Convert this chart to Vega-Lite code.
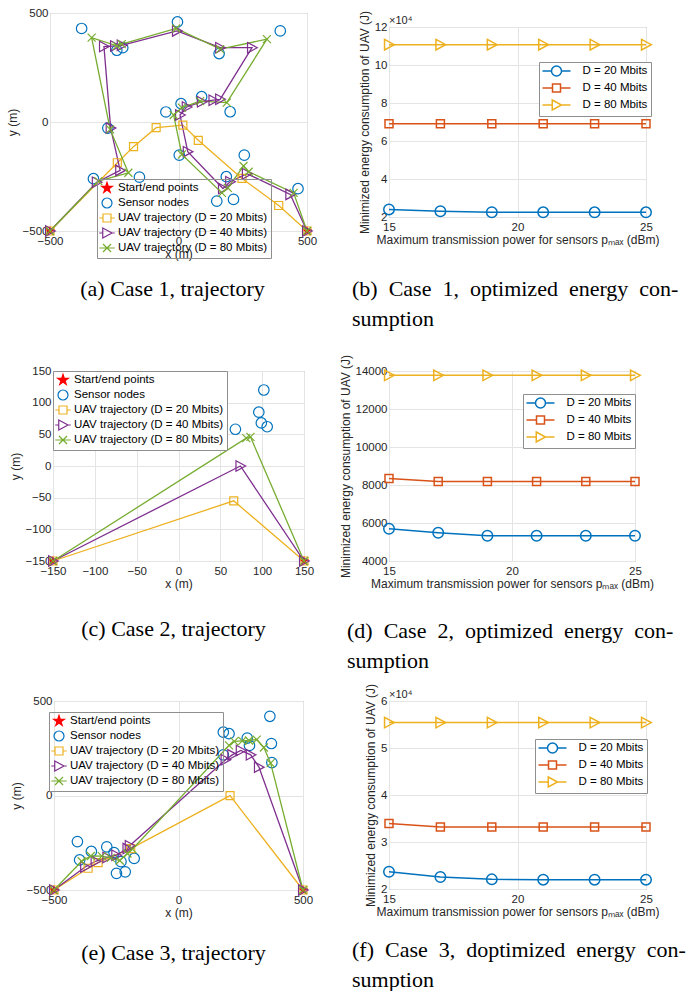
{
  "$schema": "https://vega.github.io/schema/vega-lite/v6.json",
  "padding": {"left": 5, "top": 6, "right": 0, "bottom": 0},
  "bounds": "flush",
  "columns": 2,
  "spacing": {"row": 140, "column": 82},
  "center": {"row": true, "column": true},
  "resolve": {"scale": {"color": "independent", "shape": "independent", "fill": "independent"}, "legend": {"color": "independent", "shape": "independent", "fill": "independent"}},
  "datasets": {
    "trajA": [
      {"s": "Start/end points", "x": -500, "y": -500, "i": 0},
      {"s": "Start/end points", "x": 500, "y": -500, "i": 1},
      {"s": "Sensor nodes", "x": -377, "y": 429, "i": 0},
      {"s": "Sensor nodes", "x": -4, "y": 459, "i": 1},
      {"s": "Sensor nodes", "x": 396, "y": 418, "i": 2},
      {"s": "Sensor nodes", "x": -240, "y": 329, "i": 3},
      {"s": "Sensor nodes", "x": -217, "y": 341, "i": 4},
      {"s": "Sensor nodes", "x": 158, "y": 314, "i": 5},
      {"s": "Sensor nodes", "x": 90, "y": 116, "i": 6},
      {"s": "Sensor nodes", "x": 10, "y": 84, "i": 7},
      {"s": "Sensor nodes", "x": -49, "y": 46, "i": 8},
      {"s": "Sensor nodes", "x": 201, "y": 47, "i": 9},
      {"s": "Sensor nodes", "x": -275, "y": -28, "i": 10},
      {"s": "Sensor nodes", "x": 3, "y": -152, "i": 11},
      {"s": "Sensor nodes", "x": 256, "y": -152, "i": 12},
      {"s": "Sensor nodes", "x": -331, "y": -260, "i": 13},
      {"s": "Sensor nodes", "x": -152, "y": -253, "i": 14},
      {"s": "Sensor nodes", "x": 186, "y": -251, "i": 15},
      {"s": "Sensor nodes", "x": 465, "y": -306, "i": 16},
      {"s": "Sensor nodes", "x": 149, "y": -363, "i": 17},
      {"s": "Sensor nodes", "x": 214, "y": -355, "i": 18},
      {"s": "UAV trajectory (D = 20 Mbits)", "x": -500, "y": -500, "i": 0},
      {"s": "UAV trajectory (D = 20 Mbits)", "x": -238, "y": -187, "i": 1},
      {"s": "UAV trajectory (D = 20 Mbits)", "x": -175, "y": -113, "i": 2},
      {"s": "UAV trajectory (D = 20 Mbits)", "x": -87, "y": -26, "i": 3},
      {"s": "UAV trajectory (D = 20 Mbits)", "x": 17, "y": -14, "i": 4},
      {"s": "UAV trajectory (D = 20 Mbits)", "x": 77, "y": -84, "i": 5},
      {"s": "UAV trajectory (D = 20 Mbits)", "x": 247, "y": -259, "i": 6},
      {"s": "UAV trajectory (D = 20 Mbits)", "x": 390, "y": -383, "i": 7},
      {"s": "UAV trajectory (D = 20 Mbits)", "x": 500, "y": -500, "i": 8},
      {"s": "UAV trajectory (D = 40 Mbits)", "x": -500, "y": -500, "i": 0},
      {"s": "UAV trajectory (D = 40 Mbits)", "x": -318, "y": -276, "i": 1},
      {"s": "UAV trajectory (D = 40 Mbits)", "x": -227, "y": -222, "i": 2},
      {"s": "UAV trajectory (D = 40 Mbits)", "x": -264, "y": -28, "i": 3},
      {"s": "UAV trajectory (D = 40 Mbits)", "x": -290, "y": 346, "i": 4},
      {"s": "UAV trajectory (D = 40 Mbits)", "x": -247, "y": 349, "i": 5},
      {"s": "UAV trajectory (D = 40 Mbits)", "x": -221, "y": 352, "i": 6},
      {"s": "UAV trajectory (D = 40 Mbits)", "x": -6, "y": 418, "i": 7},
      {"s": "UAV trajectory (D = 40 Mbits)", "x": 162, "y": 341, "i": 8},
      {"s": "UAV trajectory (D = 40 Mbits)", "x": 286, "y": 341, "i": 9},
      {"s": "UAV trajectory (D = 40 Mbits)", "x": 162, "y": 104, "i": 10},
      {"s": "UAV trajectory (D = 40 Mbits)", "x": 136, "y": 100, "i": 11},
      {"s": "UAV trajectory (D = 40 Mbits)", "x": 91, "y": 93, "i": 12},
      {"s": "UAV trajectory (D = 40 Mbits)", "x": 32, "y": 69, "i": 13},
      {"s": "UAV trajectory (D = 40 Mbits)", "x": 6, "y": 32, "i": 14},
      {"s": "UAV trajectory (D = 40 Mbits)", "x": 36, "y": -136, "i": 15},
      {"s": "UAV trajectory (D = 40 Mbits)", "x": 173, "y": -305, "i": 16},
      {"s": "UAV trajectory (D = 40 Mbits)", "x": 201, "y": -274, "i": 17},
      {"s": "UAV trajectory (D = 40 Mbits)", "x": 266, "y": -237, "i": 18},
      {"s": "UAV trajectory (D = 40 Mbits)", "x": 435, "y": -332, "i": 19},
      {"s": "UAV trajectory (D = 40 Mbits)", "x": 500, "y": -500, "i": 20},
      {"s": "UAV trajectory (D = 80 Mbits)", "x": -500, "y": -500, "i": 0},
      {"s": "UAV trajectory (D = 80 Mbits)", "x": -312, "y": -271, "i": 1},
      {"s": "UAV trajectory (D = 80 Mbits)", "x": -195, "y": -233, "i": 2},
      {"s": "UAV trajectory (D = 80 Mbits)", "x": -266, "y": -34, "i": 3},
      {"s": "UAV trajectory (D = 80 Mbits)", "x": -338, "y": 387, "i": 4},
      {"s": "UAV trajectory (D = 80 Mbits)", "x": -240, "y": 349, "i": 5},
      {"s": "UAV trajectory (D = 80 Mbits)", "x": -221, "y": 357, "i": 6},
      {"s": "UAV trajectory (D = 80 Mbits)", "x": -9, "y": 429, "i": 7},
      {"s": "UAV trajectory (D = 80 Mbits)", "x": 162, "y": 334, "i": 8},
      {"s": "UAV trajectory (D = 80 Mbits)", "x": 344, "y": 380, "i": 9},
      {"s": "UAV trajectory (D = 80 Mbits)", "x": 188, "y": 89, "i": 10},
      {"s": "UAV trajectory (D = 80 Mbits)", "x": 84, "y": 96, "i": 11},
      {"s": "UAV trajectory (D = 80 Mbits)", "x": 13, "y": 66, "i": 12},
      {"s": "UAV trajectory (D = 80 Mbits)", "x": -19, "y": 32, "i": 13},
      {"s": "UAV trajectory (D = 80 Mbits)", "x": 13, "y": -149, "i": 14},
      {"s": "UAV trajectory (D = 80 Mbits)", "x": 169, "y": -325, "i": 15},
      {"s": "UAV trajectory (D = 80 Mbits)", "x": 192, "y": -302, "i": 16},
      {"s": "UAV trajectory (D = 80 Mbits)", "x": 253, "y": -202, "i": 17},
      {"s": "UAV trajectory (D = 80 Mbits)", "x": 273, "y": -228, "i": 18},
      {"s": "UAV trajectory (D = 80 Mbits)", "x": 448, "y": -325, "i": 19},
      {"s": "UAV trajectory (D = 80 Mbits)", "x": 500, "y": -500, "i": 20}
    ],
    "trajC": [
      {"s": "Start/end points", "x": -150, "y": -150, "i": 0},
      {"s": "Start/end points", "x": 150, "y": -150, "i": 1},
      {"s": "Sensor nodes", "x": 68, "y": 58, "i": 0},
      {"s": "Sensor nodes", "x": 102, "y": 120, "i": 1},
      {"s": "Sensor nodes", "x": 96, "y": 85, "i": 2},
      {"s": "Sensor nodes", "x": 99, "y": 68, "i": 3},
      {"s": "Sensor nodes", "x": 106, "y": 62, "i": 4},
      {"s": "UAV trajectory (D = 20 Mbits)", "x": -150, "y": -150, "i": 0},
      {"s": "UAV trajectory (D = 20 Mbits)", "x": 66, "y": -55, "i": 1},
      {"s": "UAV trajectory (D = 20 Mbits)", "x": 150, "y": -150, "i": 2},
      {"s": "UAV trajectory (D = 40 Mbits)", "x": -150, "y": -150, "i": 0},
      {"s": "UAV trajectory (D = 40 Mbits)", "x": 74, "y": 0, "i": 1},
      {"s": "UAV trajectory (D = 40 Mbits)", "x": 150, "y": -150, "i": 2},
      {"s": "UAV trajectory (D = 80 Mbits)", "x": -150, "y": -150, "i": 0},
      {"s": "UAV trajectory (D = 80 Mbits)", "x": 81, "y": 44, "i": 1},
      {"s": "UAV trajectory (D = 80 Mbits)", "x": 86, "y": 46, "i": 2},
      {"s": "UAV trajectory (D = 80 Mbits)", "x": 150, "y": -150, "i": 3}
    ],
    "trajE": [
      {"s": "Start/end points", "x": -500, "y": -500, "i": 0},
      {"s": "Start/end points", "x": 500, "y": -500, "i": 1},
      {"s": "Sensor nodes", "x": 367, "y": 419, "i": 0},
      {"s": "Sensor nodes", "x": 180, "y": 335, "i": 1},
      {"s": "Sensor nodes", "x": 203, "y": 327, "i": 2},
      {"s": "Sensor nodes", "x": 373, "y": 275, "i": 3},
      {"s": "Sensor nodes", "x": 276, "y": 304, "i": 4},
      {"s": "Sensor nodes", "x": 285, "y": 265, "i": 5},
      {"s": "Sensor nodes", "x": 180, "y": 215, "i": 6},
      {"s": "Sensor nodes", "x": 375, "y": 174, "i": 7},
      {"s": "Sensor nodes", "x": -406, "y": -244, "i": 8},
      {"s": "Sensor nodes", "x": -397, "y": -341, "i": 9},
      {"s": "Sensor nodes", "x": -350, "y": -296, "i": 10},
      {"s": "Sensor nodes", "x": -288, "y": -272, "i": 11},
      {"s": "Sensor nodes", "x": -259, "y": -302, "i": 12},
      {"s": "Sensor nodes", "x": -231, "y": -350, "i": 13},
      {"s": "Sensor nodes", "x": -249, "y": -412, "i": 14},
      {"s": "Sensor nodes", "x": -214, "y": -404, "i": 15},
      {"s": "Sensor nodes", "x": -178, "y": -333, "i": 16},
      {"s": "UAV trajectory (D = 20 Mbits)", "x": -500, "y": -500, "i": 0},
      {"s": "UAV trajectory (D = 20 Mbits)", "x": -363, "y": -385, "i": 1},
      {"s": "UAV trajectory (D = 20 Mbits)", "x": -323, "y": -355, "i": 2},
      {"s": "UAV trajectory (D = 20 Mbits)", "x": -192, "y": -281, "i": 3},
      {"s": "UAV trajectory (D = 20 Mbits)", "x": 207, "y": -1, "i": 4},
      {"s": "UAV trajectory (D = 20 Mbits)", "x": 500, "y": -500, "i": 5},
      {"s": "UAV trajectory (D = 40 Mbits)", "x": -500, "y": -500, "i": 0},
      {"s": "UAV trajectory (D = 40 Mbits)", "x": -375, "y": -378, "i": 1},
      {"s": "UAV trajectory (D = 40 Mbits)", "x": -333, "y": -348, "i": 2},
      {"s": "UAV trajectory (D = 40 Mbits)", "x": -286, "y": -328, "i": 3},
      {"s": "UAV trajectory (D = 40 Mbits)", "x": -250, "y": -316, "i": 4},
      {"s": "UAV trajectory (D = 40 Mbits)", "x": -205, "y": -281, "i": 5},
      {"s": "UAV trajectory (D = 40 Mbits)", "x": -196, "y": -266, "i": 6},
      {"s": "UAV trajectory (D = 40 Mbits)", "x": 189, "y": 189, "i": 7},
      {"s": "UAV trajectory (D = 40 Mbits)", "x": 216, "y": 215, "i": 8},
      {"s": "UAV trajectory (D = 40 Mbits)", "x": 250, "y": 238, "i": 9},
      {"s": "UAV trajectory (D = 40 Mbits)", "x": 290, "y": 215, "i": 10},
      {"s": "UAV trajectory (D = 40 Mbits)", "x": 323, "y": 150, "i": 11},
      {"s": "UAV trajectory (D = 40 Mbits)", "x": 500, "y": -500, "i": 12},
      {"s": "UAV trajectory (D = 80 Mbits)", "x": -500, "y": -500, "i": 0},
      {"s": "UAV trajectory (D = 80 Mbits)", "x": -389, "y": -348, "i": 1},
      {"s": "UAV trajectory (D = 80 Mbits)", "x": -352, "y": -320, "i": 2},
      {"s": "UAV trajectory (D = 80 Mbits)", "x": -308, "y": -321, "i": 3},
      {"s": "UAV trajectory (D = 80 Mbits)", "x": -272, "y": -330, "i": 4},
      {"s": "UAV trajectory (D = 80 Mbits)", "x": -236, "y": -344, "i": 5},
      {"s": "UAV trajectory (D = 80 Mbits)", "x": -205, "y": -307, "i": 6},
      {"s": "UAV trajectory (D = 80 Mbits)", "x": -185, "y": -284, "i": 7},
      {"s": "UAV trajectory (D = 80 Mbits)", "x": 203, "y": 265, "i": 8},
      {"s": "UAV trajectory (D = 80 Mbits)", "x": 224, "y": 286, "i": 9},
      {"s": "UAV trajectory (D = 80 Mbits)", "x": 256, "y": 289, "i": 10},
      {"s": "UAV trajectory (D = 80 Mbits)", "x": 283, "y": 291, "i": 11},
      {"s": "UAV trajectory (D = 80 Mbits)", "x": 314, "y": 296, "i": 12},
      {"s": "UAV trajectory (D = 80 Mbits)", "x": 343, "y": 254, "i": 13},
      {"s": "UAV trajectory (D = 80 Mbits)", "x": 370, "y": 171, "i": 14},
      {"s": "UAV trajectory (D = 80 Mbits)", "x": 500, "y": -500, "i": 15}
    ],
    "enB": [
      {"s": "D = 20 Mbits", "p": 15, "e": 2.40}, {"s": "D = 20 Mbits", "p": 17, "e": 2.30}, {"s": "D = 20 Mbits", "p": 19, "e": 2.25},
      {"s": "D = 20 Mbits", "p": 21, "e": 2.245}, {"s": "D = 20 Mbits", "p": 23, "e": 2.245}, {"s": "D = 20 Mbits", "p": 25, "e": 2.245},
      {"s": "D = 40 Mbits", "p": 15, "e": 6.91}, {"s": "D = 40 Mbits", "p": 17, "e": 6.91}, {"s": "D = 40 Mbits", "p": 19, "e": 6.91},
      {"s": "D = 40 Mbits", "p": 21, "e": 6.91}, {"s": "D = 40 Mbits", "p": 23, "e": 6.91}, {"s": "D = 40 Mbits", "p": 25, "e": 6.91},
      {"s": "D = 80 Mbits", "p": 15, "e": 11.07}, {"s": "D = 80 Mbits", "p": 17, "e": 11.07}, {"s": "D = 80 Mbits", "p": 19, "e": 11.07},
      {"s": "D = 80 Mbits", "p": 21, "e": 11.07}, {"s": "D = 80 Mbits", "p": 23, "e": 11.07}, {"s": "D = 80 Mbits", "p": 25, "e": 11.07}
    ],
    "enD": [
      {"s": "D = 20 Mbits", "p": 15, "e": 5696}, {"s": "D = 20 Mbits", "p": 17, "e": 5486}, {"s": "D = 20 Mbits", "p": 19, "e": 5329},
      {"s": "D = 20 Mbits", "p": 21, "e": 5329}, {"s": "D = 20 Mbits", "p": 23, "e": 5329}, {"s": "D = 20 Mbits", "p": 25, "e": 5329},
      {"s": "D = 40 Mbits", "p": 15, "e": 8336}, {"s": "D = 40 Mbits", "p": 17, "e": 8178}, {"s": "D = 40 Mbits", "p": 19, "e": 8178},
      {"s": "D = 40 Mbits", "p": 21, "e": 8178}, {"s": "D = 40 Mbits", "p": 23, "e": 8178}, {"s": "D = 40 Mbits", "p": 25, "e": 8178},
      {"s": "D = 80 Mbits", "p": 15, "e": 13773}, {"s": "D = 80 Mbits", "p": 17, "e": 13773}, {"s": "D = 80 Mbits", "p": 19, "e": 13773},
      {"s": "D = 80 Mbits", "p": 21, "e": 13773}, {"s": "D = 80 Mbits", "p": 23, "e": 13773}, {"s": "D = 80 Mbits", "p": 25, "e": 13773}
    ],
    "enF": [
      {"s": "D = 20 Mbits", "p": 15, "e": 2.368}, {"s": "D = 20 Mbits", "p": 17, "e": 2.255}, {"s": "D = 20 Mbits", "p": 19, "e": 2.205},
      {"s": "D = 20 Mbits", "p": 21, "e": 2.198}, {"s": "D = 20 Mbits", "p": 23, "e": 2.198}, {"s": "D = 20 Mbits", "p": 25, "e": 2.198},
      {"s": "D = 40 Mbits", "p": 15, "e": 3.395}, {"s": "D = 40 Mbits", "p": 17, "e": 3.317}, {"s": "D = 40 Mbits", "p": 19, "e": 3.317},
      {"s": "D = 40 Mbits", "p": 21, "e": 3.317}, {"s": "D = 40 Mbits", "p": 23, "e": 3.317}, {"s": "D = 40 Mbits", "p": 25, "e": 3.317},
      {"s": "D = 80 Mbits", "p": 15, "e": 5.54}, {"s": "D = 80 Mbits", "p": 17, "e": 5.54}, {"s": "D = 80 Mbits", "p": 19, "e": 5.54},
      {"s": "D = 80 Mbits", "p": 21, "e": 5.54}, {"s": "D = 80 Mbits", "p": 23, "e": 5.54}, {"s": "D = 80 Mbits", "p": 25, "e": 5.54}
    ]
  },
  "concat": [
    {
      "width": 257, "height": 218,
      "data": {"name": "trajA"},
      "title": {"text": "(a) Case 1, trajectory", "orient": "bottom", "anchor": "middle", "frame": "group", "offset": 19, "dx": -6},
      "encoding": {
        "x": {"field": "x", "type": "quantitative", "scale": {"domain": [-500, 500], "nice": false, "zero": false}, "axis": {"values": [-500, 0, 500], "title": "x (m)"}},
        "y": {"field": "y", "type": "quantitative", "scale": {"domain": [-500, 500], "nice": false, "zero": false}, "axis": {"values": [-500, 0, 500], "title": "y (m)"}},
        "color": {"field": "s", "type": "nominal",
          "scale": {"domain": ["Start/end points", "Sensor nodes", "UAV trajectory (D = 20 Mbits)", "UAV trajectory (D = 40 Mbits)", "UAV trajectory (D = 80 Mbits)"], "range": ["#ff0000", "#0072bd", "#edb120", "#7e2f8e", "#77ac30"]},
          "legend": {"orient": "none", "legendX": 47, "legendY": 166, "title": null, "fillColor": null, "strokeColor": "#8f8f8f", "padding": 3, "rowPadding": 0, "symbolSize": 100, "symbolStrokeWidth": 1.2, "symbolOpacity": 1, "symbolOffset": 1, "labelOffset": 5, "labelFontSize": 11.5}}
      },
      "layer": [
        {"mark": {"type": "point", "filled": false, "size": 0},
         "encoding": {
           "shape": {"field": "s", "type": "nominal", "scale": {"domain": ["Start/end points", "Sensor nodes", "UAV trajectory (D = 20 Mbits)", "UAV trajectory (D = 40 Mbits)", "UAV trajectory (D = 80 Mbits)"], "range": ["M0,-1.1 L0.247,-0.34 L1.046,-0.34 L0.4,0.13 L0.647,0.89 L0,0.42 L-0.647,0.89 L-0.4,0.13 L-1.046,-0.34 L-0.247,-0.34 Z", "circle", "M-1.55,0 L-0.8,0 M0.8,0 L1.55,0 M-0.8,-0.8 L0.8,-0.8 L0.8,0.8 L-0.8,0.8 Z", "M-1.55,0 L-0.85,0 M1,0 L1.55,0 M-0.85,-1 L1,0 L-0.85,1 Z", "M-1.55,0 L1.55,0 M-0.8,-0.8 L0.8,0.8 M-0.8,0.8 L0.8,-0.8"]},
             "legend": {"orient": "none", "legendX": 47, "legendY": 166, "title": null, "fillColor": null, "strokeColor": "#8f8f8f", "padding": 3, "rowPadding": 0, "symbolSize": 100, "symbolStrokeWidth": 1.2, "symbolOpacity": 1, "symbolOffset": 1, "labelOffset": 5, "labelFontSize": 11.5}},
           "fill": {"field": "s", "type": "nominal", "scale": {"domain": ["Start/end points", "Sensor nodes", "UAV trajectory (D = 20 Mbits)", "UAV trajectory (D = 40 Mbits)", "UAV trajectory (D = 80 Mbits)"], "range": ["#ff0000", "transparent", "transparent", "transparent", "transparent"]},
             "legend": {"orient": "none", "legendX": 47, "legendY": 166, "title": null, "fillColor": null, "strokeColor": "#8f8f8f", "padding": 3, "rowPadding": 0, "symbolSize": 100, "symbolStrokeWidth": 1.2, "symbolOpacity": 1, "symbolOffset": 1, "labelOffset": 5, "labelFontSize": 11.5}}
         }},
        {"transform": [{"filter": "datum.s === 'Start/end points'"}], "mark": {"type": "point", "filled": true, "size": 100, "opacity": 1, "shape": "M0,-1.1 L0.247,-0.34 L1.046,-0.34 L0.4,0.13 L0.647,0.89 L0,0.42 L-0.647,0.89 L-0.4,0.13 L-1.046,-0.34 L-0.247,-0.34 Z"},
         "encoding": {"color": {"value": "#ff0000"}}},
        {"transform": [{"filter": "datum.s === 'Sensor nodes'"}], "mark": {"type": "point", "filled": false, "size": 110, "strokeWidth": 1.2, "opacity": 1, "shape": "circle"}},
        {"transform": [{"filter": "indexof(datum.s, 'UAV') === 0"}], "mark": {"type": "line", "strokeWidth": 1.3},
         "encoding": {"order": {"field": "i", "type": "quantitative"}}},
        {"transform": [{"filter": "datum.s === 'UAV trajectory (D = 20 Mbits)'"}], "mark": {"type": "point", "filled": false, "size": 100, "strokeWidth": 1.2, "opacity": 1, "shape": "M-0.8,-0.8 L0.8,-0.8 L0.8,0.8 L-0.8,0.8 Z"}},
        {"transform": [{"filter": "datum.s === 'UAV trajectory (D = 40 Mbits)'"}], "mark": {"type": "point", "filled": false, "size": 110, "strokeWidth": 1.2, "opacity": 1, "shape": "M-0.85,-1 L1,0 L-0.85,1 Z"}},
        {"transform": [{"filter": "datum.s === 'UAV trajectory (D = 80 Mbits)'"}], "mark": {"type": "point", "filled": false, "size": 100, "strokeWidth": 1.2, "opacity": 1, "shape": "M-0.8,-0.8 L0.8,0.8 M-0.8,0.8 L0.8,-0.8"}}
      ]
    },
    {
      "width": 257, "height": 190,
      "data": {"name": "enB"},
      "title": {"text": ["(b)\u2002Case\u20021,\u2002optimized\u2002energy\u2002con-", "sumption"], "orient": "bottom", "anchor": "start", "frame": "group", "offset": 33, "dx": -37, "lineHeight": 30},
      "encoding": {
        "x": {"field": "p", "type": "quantitative", "scale": {"domain": [15, 25], "nice": false, "zero": false}, "axis": {"values": [15, 20, 25], "title": "Maximum transmission power for sensors pₘₐₓ (dBm)"}},
        "y": {"field": "e", "type": "quantitative", "scale": {"domain": [2, 12], "nice": false, "zero": false}, "axis": {"values": [2, 4, 6, 8, 10, 12], "title": "Minimized energy consumption of UAV (J)"}},
        "color": {"field": "s", "type": "nominal", "scale": {"domain": ["D = 20 Mbits", "D = 40 Mbits", "D = 80 Mbits"], "range": ["#0072bd", "#d95319", "#edb120"]},
          "legend": {"orient": "none", "legendX": 150, "legendY": 35, "title": null, "fillColor": "#ffffff", "strokeColor": "#8f8f8f", "padding": 3, "rowPadding": 2, "symbolSize": 100, "symbolStrokeWidth": 1.5, "symbolOpacity": 1, "symbolOffset": 8.5, "labelOffset": 20, "labelFontSize": 11.5}}
      },
      "layer": [
        {"mark": {"type": "line", "strokeWidth": 1.5}},
        {"mark": {"type": "point", "filled": false, "size": 0},
         "encoding": {"shape": {"field": "s", "type": "nominal", "scale": {"domain": ["D = 20 Mbits", "D = 40 Mbits", "D = 80 Mbits"], "range": ["M-2.8,0 L-1,0 M1,0 L2.8,0 M-1,0 A1,1 0 1,1 1,0 A1,1 0 1,1 -1,0 Z", "M-2.8,0 L-0.8,0 M0.8,0 L2.8,0 M-0.8,-0.8 L0.8,-0.8 L0.8,0.8 L-0.8,0.8 Z", "M-2.8,0 L-0.85,0 M1,0 L2.8,0 M-0.85,-1 L1,0 L-0.85,1 Z"]},
           "legend": {"orient": "none", "legendX": 150, "legendY": 35, "title": null, "fillColor": "#ffffff", "strokeColor": "#8f8f8f", "padding": 3, "rowPadding": 2, "symbolSize": 100, "symbolStrokeWidth": 1.5, "symbolOpacity": 1, "symbolOffset": 8.5, "labelOffset": 20, "labelFontSize": 11.5}}}},
        {"transform": [{"filter": "datum.s === 'D = 20 Mbits'"}], "mark": {"type": "point", "filled": false, "size": 110, "strokeWidth": 1.5, "opacity": 1, "shape": "circle"}},
        {"transform": [{"filter": "datum.s === 'D = 40 Mbits'"}], "mark": {"type": "point", "filled": false, "size": 100, "strokeWidth": 1.5, "opacity": 1, "shape": "M-0.8,-0.8 L0.8,-0.8 L0.8,0.8 L-0.8,0.8 Z"}},
        {"transform": [{"filter": "datum.s === 'D = 80 Mbits'"}], "mark": {"type": "point", "filled": false, "size": 110, "strokeWidth": 1.5, "opacity": 1, "shape": "M-0.85,-1 L1,0 L-0.85,1 Z"}},
        {"data": {"values": [{"t": "×10⁴", "p": 15, "e": 12}]}, "mark": {"type": "text", "align": "left", "baseline": "bottom", "dy": -1, "fontSize": 11, "fill": "#262626"},
         "encoding": {"text": {"field": "t", "type": "nominal"}, "color": {"value": "#262626"}}}
      ]
    },
    {
      "width": 251, "height": 190,
      "data": {"name": "trajC"},
      "title": {"text": "(c) Case 2, trajectory", "orient": "bottom", "anchor": "middle", "frame": "group", "offset": 29, "dx": -5},
      "encoding": {
        "x": {"field": "x", "type": "quantitative", "scale": {"domain": [-150, 150], "nice": false, "zero": false}, "axis": {"values": [-150, -100, -50, 0, 50, 100, 150], "title": "x (m)"}},
        "y": {"field": "y", "type": "quantitative", "scale": {"domain": [-150, 150], "nice": false, "zero": false}, "axis": {"values": [-150, -100, -50, 0, 50, 100, 150], "title": "y (m)"}},
        "color": {"field": "s", "type": "nominal",
          "scale": {"domain": ["Start/end points", "Sensor nodes", "UAV trajectory (D = 20 Mbits)", "UAV trajectory (D = 40 Mbits)", "UAV trajectory (D = 80 Mbits)"], "range": ["#ff0000", "#0072bd", "#edb120", "#7e2f8e", "#77ac30"]},
          "legend": {"orient": "none", "legendX": 0, "legendY": 0, "title": null, "fillColor": "#ffffff", "strokeColor": "#8f8f8f", "padding": 3, "rowPadding": 0, "symbolSize": 100, "symbolStrokeWidth": 1.2, "symbolOpacity": 1, "symbolOffset": 1, "labelOffset": 5, "labelFontSize": 11.5}}
      },
      "layer": [
        {"mark": {"type": "point", "filled": false, "size": 0},
         "encoding": {
           "shape": {"field": "s", "type": "nominal", "scale": {"domain": ["Start/end points", "Sensor nodes", "UAV trajectory (D = 20 Mbits)", "UAV trajectory (D = 40 Mbits)", "UAV trajectory (D = 80 Mbits)"], "range": ["M0,-1.1 L0.247,-0.34 L1.046,-0.34 L0.4,0.13 L0.647,0.89 L0,0.42 L-0.647,0.89 L-0.4,0.13 L-1.046,-0.34 L-0.247,-0.34 Z", "circle", "M-1.55,0 L-0.8,0 M0.8,0 L1.55,0 M-0.8,-0.8 L0.8,-0.8 L0.8,0.8 L-0.8,0.8 Z", "M-1.55,0 L-0.85,0 M1,0 L1.55,0 M-0.85,-1 L1,0 L-0.85,1 Z", "M-1.55,0 L1.55,0 M-0.8,-0.8 L0.8,0.8 M-0.8,0.8 L0.8,-0.8"]},
             "legend": {"orient": "none", "legendX": 0, "legendY": 0, "title": null, "fillColor": "#ffffff", "strokeColor": "#8f8f8f", "padding": 3, "rowPadding": 0, "symbolSize": 100, "symbolStrokeWidth": 1.2, "symbolOpacity": 1, "symbolOffset": 1, "labelOffset": 5, "labelFontSize": 11.5}},
           "fill": {"field": "s", "type": "nominal", "scale": {"domain": ["Start/end points", "Sensor nodes", "UAV trajectory (D = 20 Mbits)", "UAV trajectory (D = 40 Mbits)", "UAV trajectory (D = 80 Mbits)"], "range": ["#ff0000", "transparent", "transparent", "transparent", "transparent"]},
             "legend": {"orient": "none", "legendX": 0, "legendY": 0, "title": null, "fillColor": "#ffffff", "strokeColor": "#8f8f8f", "padding": 3, "rowPadding": 0, "symbolSize": 100, "symbolStrokeWidth": 1.2, "symbolOpacity": 1, "symbolOffset": 1, "labelOffset": 5, "labelFontSize": 11.5}}
         }},
        {"transform": [{"filter": "datum.s === 'Start/end points'"}], "mark": {"type": "point", "filled": true, "size": 100, "opacity": 1, "shape": "M0,-1.1 L0.247,-0.34 L1.046,-0.34 L0.4,0.13 L0.647,0.89 L0,0.42 L-0.647,0.89 L-0.4,0.13 L-1.046,-0.34 L-0.247,-0.34 Z"},
         "encoding": {"color": {"value": "#ff0000"}}},
        {"transform": [{"filter": "datum.s === 'Sensor nodes'"}], "mark": {"type": "point", "filled": false, "size": 110, "strokeWidth": 1.2, "opacity": 1, "shape": "circle"}},
        {"transform": [{"filter": "indexof(datum.s, 'UAV') === 0"}], "mark": {"type": "line", "strokeWidth": 1.3},
         "encoding": {"order": {"field": "i", "type": "quantitative"}}},
        {"transform": [{"filter": "datum.s === 'UAV trajectory (D = 20 Mbits)'"}], "mark": {"type": "point", "filled": false, "size": 100, "strokeWidth": 1.2, "opacity": 1, "shape": "M-0.8,-0.8 L0.8,-0.8 L0.8,0.8 L-0.8,0.8 Z"}},
        {"transform": [{"filter": "datum.s === 'UAV trajectory (D = 40 Mbits)'"}], "mark": {"type": "point", "filled": false, "size": 110, "strokeWidth": 1.2, "opacity": 1, "shape": "M-0.85,-1 L1,0 L-0.85,1 Z"}},
        {"transform": [{"filter": "datum.s === 'UAV trajectory (D = 80 Mbits)'"}], "mark": {"type": "point", "filled": false, "size": 100, "strokeWidth": 1.2, "opacity": 1, "shape": "M-0.8,-0.8 L0.8,0.8 M-0.8,0.8 L0.8,-0.8"}}
      ]
    },
    {
      "width": 246, "height": 190,
      "data": {"name": "enD"},
      "title": {"text": ["(d)\u2002Case\u20022,\u2002optimized\u2002energy\u2002con-", "sumption"], "orient": "bottom", "anchor": "start", "frame": "group", "offset": 31, "dx": -42, "lineHeight": 30},
      "encoding": {
        "x": {"field": "p", "type": "quantitative", "scale": {"domain": [15, 25], "nice": false, "zero": false}, "axis": {"values": [15, 20, 25], "title": "Maximum transmission power for sensors pₘₐₓ (dBm)"}},
        "y": {"field": "e", "type": "quantitative", "scale": {"domain": [4000, 14000], "nice": false, "zero": false}, "axis": {"values": [4000, 6000, 8000, 10000, 12000, 14000], "format": "d", "title": "Minimized energy consumption of UAV (J)"}},
        "color": {"field": "s", "type": "nominal", "scale": {"domain": ["D = 20 Mbits", "D = 40 Mbits", "D = 80 Mbits"], "range": ["#0072bd", "#d95319", "#edb120"]},
          "legend": {"orient": "none", "legendX": 134, "legendY": 23, "title": null, "fillColor": "#ffffff", "strokeColor": "#8f8f8f", "padding": 3, "rowPadding": 2, "symbolSize": 100, "symbolStrokeWidth": 1.5, "symbolOpacity": 1, "symbolOffset": 8.5, "labelOffset": 20, "labelFontSize": 11.5}}
      },
      "layer": [
        {"mark": {"type": "line", "strokeWidth": 1.5}},
        {"mark": {"type": "point", "filled": false, "size": 0},
         "encoding": {"shape": {"field": "s", "type": "nominal", "scale": {"domain": ["D = 20 Mbits", "D = 40 Mbits", "D = 80 Mbits"], "range": ["M-2.8,0 L-1,0 M1,0 L2.8,0 M-1,0 A1,1 0 1,1 1,0 A1,1 0 1,1 -1,0 Z", "M-2.8,0 L-0.8,0 M0.8,0 L2.8,0 M-0.8,-0.8 L0.8,-0.8 L0.8,0.8 L-0.8,0.8 Z", "M-2.8,0 L-0.85,0 M1,0 L2.8,0 M-0.85,-1 L1,0 L-0.85,1 Z"]},
           "legend": {"orient": "none", "legendX": 134, "legendY": 23, "title": null, "fillColor": "#ffffff", "strokeColor": "#8f8f8f", "padding": 3, "rowPadding": 2, "symbolSize": 100, "symbolStrokeWidth": 1.5, "symbolOpacity": 1, "symbolOffset": 8.5, "labelOffset": 20, "labelFontSize": 11.5}}}},
        {"transform": [{"filter": "datum.s === 'D = 20 Mbits'"}], "mark": {"type": "point", "filled": false, "size": 110, "strokeWidth": 1.5, "opacity": 1, "shape": "circle"}},
        {"transform": [{"filter": "datum.s === 'D = 40 Mbits'"}], "mark": {"type": "point", "filled": false, "size": 100, "strokeWidth": 1.5, "opacity": 1, "shape": "M-0.8,-0.8 L0.8,-0.8 L0.8,0.8 L-0.8,0.8 Z"}},
        {"transform": [{"filter": "datum.s === 'D = 80 Mbits'"}], "mark": {"type": "point", "filled": false, "size": 110, "strokeWidth": 1.5, "opacity": 1, "shape": "M-0.85,-1 L1,0 L-0.85,1 Z"}}
      ]
    },
    {
      "width": 249, "height": 189,
      "data": {"name": "trajE"},
      "title": {"text": "(e) Case 3, trajectory", "orient": "bottom", "anchor": "middle", "frame": "group", "offset": 24, "dx": -5},
      "encoding": {
        "x": {"field": "x", "type": "quantitative", "scale": {"domain": [-500, 500], "nice": false, "zero": false}, "axis": {"values": [-500, 0, 500], "title": "x (m)"}},
        "y": {"field": "y", "type": "quantitative", "scale": {"domain": [-500, 500], "nice": false, "zero": false}, "axis": {"values": [-500, 0, 500], "title": "y (m)"}},
        "color": {"field": "s", "type": "nominal",
          "scale": {"domain": ["Start/end points", "Sensor nodes", "UAV trajectory (D = 20 Mbits)", "UAV trajectory (D = 40 Mbits)", "UAV trajectory (D = 80 Mbits)"], "range": ["#ff0000", "#0072bd", "#edb120", "#7e2f8e", "#77ac30"]},
          "legend": {"orient": "none", "legendX": -5, "legendY": 11, "title": null, "fillColor": null, "strokeColor": "#8f8f8f", "padding": 3, "rowPadding": 0, "symbolSize": 100, "symbolStrokeWidth": 1.2, "symbolOpacity": 1, "symbolOffset": 1, "labelOffset": 5, "labelFontSize": 11.5}}
      },
      "layer": [
        {"mark": {"type": "point", "filled": false, "size": 0},
         "encoding": {
           "shape": {"field": "s", "type": "nominal", "scale": {"domain": ["Start/end points", "Sensor nodes", "UAV trajectory (D = 20 Mbits)", "UAV trajectory (D = 40 Mbits)", "UAV trajectory (D = 80 Mbits)"], "range": ["M0,-1.1 L0.247,-0.34 L1.046,-0.34 L0.4,0.13 L0.647,0.89 L0,0.42 L-0.647,0.89 L-0.4,0.13 L-1.046,-0.34 L-0.247,-0.34 Z", "circle", "M-1.55,0 L-0.8,0 M0.8,0 L1.55,0 M-0.8,-0.8 L0.8,-0.8 L0.8,0.8 L-0.8,0.8 Z", "M-1.55,0 L-0.85,0 M1,0 L1.55,0 M-0.85,-1 L1,0 L-0.85,1 Z", "M-1.55,0 L1.55,0 M-0.8,-0.8 L0.8,0.8 M-0.8,0.8 L0.8,-0.8"]},
             "legend": {"orient": "none", "legendX": -5, "legendY": 11, "title": null, "fillColor": null, "strokeColor": "#8f8f8f", "padding": 3, "rowPadding": 0, "symbolSize": 100, "symbolStrokeWidth": 1.2, "symbolOpacity": 1, "symbolOffset": 1, "labelOffset": 5, "labelFontSize": 11.5}},
           "fill": {"field": "s", "type": "nominal", "scale": {"domain": ["Start/end points", "Sensor nodes", "UAV trajectory (D = 20 Mbits)", "UAV trajectory (D = 40 Mbits)", "UAV trajectory (D = 80 Mbits)"], "range": ["#ff0000", "transparent", "transparent", "transparent", "transparent"]},
             "legend": {"orient": "none", "legendX": -5, "legendY": 11, "title": null, "fillColor": null, "strokeColor": "#8f8f8f", "padding": 3, "rowPadding": 0, "symbolSize": 100, "symbolStrokeWidth": 1.2, "symbolOpacity": 1, "symbolOffset": 1, "labelOffset": 5, "labelFontSize": 11.5}}
         }},
        {"transform": [{"filter": "datum.s === 'Start/end points'"}], "mark": {"type": "point", "filled": true, "size": 100, "opacity": 1, "shape": "M0,-1.1 L0.247,-0.34 L1.046,-0.34 L0.4,0.13 L0.647,0.89 L0,0.42 L-0.647,0.89 L-0.4,0.13 L-1.046,-0.34 L-0.247,-0.34 Z"},
         "encoding": {"color": {"value": "#ff0000"}}},
        {"transform": [{"filter": "datum.s === 'Sensor nodes'"}], "mark": {"type": "point", "filled": false, "size": 110, "strokeWidth": 1.2, "opacity": 1, "shape": "circle"}},
        {"transform": [{"filter": "indexof(datum.s, 'UAV') === 0"}], "mark": {"type": "line", "strokeWidth": 1.3},
         "encoding": {"order": {"field": "i", "type": "quantitative"}}},
        {"transform": [{"filter": "datum.s === 'UAV trajectory (D = 20 Mbits)'"}], "mark": {"type": "point", "filled": false, "size": 100, "strokeWidth": 1.2, "opacity": 1, "shape": "M-0.8,-0.8 L0.8,-0.8 L0.8,0.8 L-0.8,0.8 Z"}},
        {"transform": [{"filter": "datum.s === 'UAV trajectory (D = 40 Mbits)'"}], "mark": {"type": "point", "filled": false, "size": 110, "strokeWidth": 1.2, "opacity": 1, "shape": "M-0.85,-1 L1,0 L-0.85,1 Z"}},
        {"transform": [{"filter": "datum.s === 'UAV trajectory (D = 80 Mbits)'"}], "mark": {"type": "point", "filled": false, "size": 100, "strokeWidth": 1.2, "opacity": 1, "shape": "M-0.8,-0.8 L0.8,0.8 M-0.8,0.8 L0.8,-0.8"}}
      ]
    },
    {
      "width": 257, "height": 188,
      "data": {"name": "enF"},
      "title": {"text": ["(f)\u2002Case\u20023,\u2002doptimized\u2002energy\u2002con-", "sumption"], "orient": "bottom", "anchor": "start", "frame": "group", "offset": 22, "dx": -37, "lineHeight": 30},
      "encoding": {
        "x": {"field": "p", "type": "quantitative", "scale": {"domain": [15, 25], "nice": false, "zero": false}, "axis": {"values": [15, 20, 25], "title": "Maximum transmission power for sensors pₘₐₓ (dBm)"}},
        "y": {"field": "e", "type": "quantitative", "scale": {"domain": [2, 6], "nice": false, "zero": false}, "axis": {"values": [2, 3, 4, 5, 6], "title": "Minimized energy consumption of UAV (J)"}},
        "color": {"field": "s", "type": "nominal", "scale": {"domain": ["D = 20 Mbits", "D = 40 Mbits", "D = 80 Mbits"], "range": ["#0072bd", "#d95319", "#edb120"]},
          "legend": {"orient": "none", "legendX": 146, "legendY": 38, "title": null, "fillColor": "#ffffff", "strokeColor": "#8f8f8f", "padding": 3, "rowPadding": 2, "symbolSize": 100, "symbolStrokeWidth": 1.5, "symbolOpacity": 1, "symbolOffset": 8.5, "labelOffset": 20, "labelFontSize": 11.5}}
      },
      "layer": [
        {"mark": {"type": "line", "strokeWidth": 1.5}},
        {"mark": {"type": "point", "filled": false, "size": 0},
         "encoding": {"shape": {"field": "s", "type": "nominal", "scale": {"domain": ["D = 20 Mbits", "D = 40 Mbits", "D = 80 Mbits"], "range": ["M-2.8,0 L-1,0 M1,0 L2.8,0 M-1,0 A1,1 0 1,1 1,0 A1,1 0 1,1 -1,0 Z", "M-2.8,0 L-0.8,0 M0.8,0 L2.8,0 M-0.8,-0.8 L0.8,-0.8 L0.8,0.8 L-0.8,0.8 Z", "M-2.8,0 L-0.85,0 M1,0 L2.8,0 M-0.85,-1 L1,0 L-0.85,1 Z"]},
           "legend": {"orient": "none", "legendX": 146, "legendY": 38, "title": null, "fillColor": "#ffffff", "strokeColor": "#8f8f8f", "padding": 3, "rowPadding": 2, "symbolSize": 100, "symbolStrokeWidth": 1.5, "symbolOpacity": 1, "symbolOffset": 8.5, "labelOffset": 20, "labelFontSize": 11.5}}}},
        {"transform": [{"filter": "datum.s === 'D = 20 Mbits'"}], "mark": {"type": "point", "filled": false, "size": 110, "strokeWidth": 1.5, "opacity": 1, "shape": "circle"}},
        {"transform": [{"filter": "datum.s === 'D = 40 Mbits'"}], "mark": {"type": "point", "filled": false, "size": 100, "strokeWidth": 1.5, "opacity": 1, "shape": "M-0.8,-0.8 L0.8,-0.8 L0.8,0.8 L-0.8,0.8 Z"}},
        {"transform": [{"filter": "datum.s === 'D = 80 Mbits'"}], "mark": {"type": "point", "filled": false, "size": 110, "strokeWidth": 1.5, "opacity": 1, "shape": "M-0.85,-1 L1,0 L-0.85,1 Z"}},
        {"data": {"values": [{"t": "×10⁴", "p": 15, "e": 6}]}, "mark": {"type": "text", "align": "left", "baseline": "bottom", "dy": -1, "fontSize": 11, "fill": "#262626"},
         "encoding": {"text": {"field": "t", "type": "nominal"}, "color": {"value": "#262626"}}}
      ]
    }
  ],
  "config": {
    "font": "Liberation Sans",
    "view": {"stroke": "#9a9a9a", "strokeWidth": 1},
    "axis": {"grid": true, "gridColor": "#e4e4e4", "gridWidth": 1, "ticks": false, "domain": false, "labelFont": "Liberation Sans", "labelFontSize": 11.5, "labelColor": "#262626", "labelFlush": false, "labelOverlap": false, "titleFont": "Liberation Sans", "titleFontSize": 12, "titleFontWeight": "normal", "titleColor": "#262626"},
    "axisX": {"labelPadding": 4, "titlePadding": 2},
    "axisY": {"labelPadding": 2, "titlePadding": 3},
    "title": {"font": "Liberation Serif", "fontSize": 22, "fontWeight": "normal", "color": "#000000"},
    "legend": {"labelFont": "Liberation Sans", "labelColor": "#000000"}
  }
}
